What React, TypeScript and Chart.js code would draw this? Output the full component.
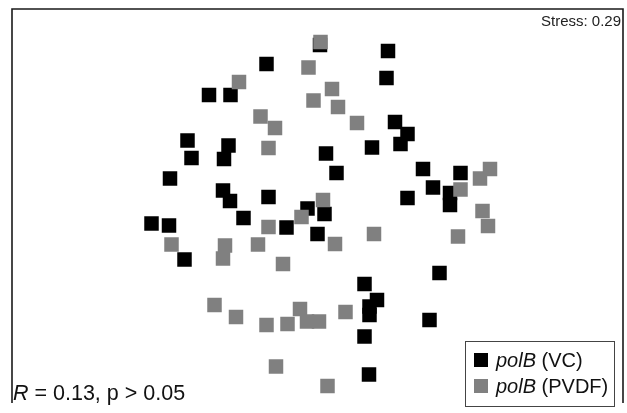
import React, { useEffect, useRef } from 'react';
import { Chart, registerables } from 'chart.js';

Chart.register(...registerables);

// Series names (the "polB" part is set in italics)
const seriesNames = ['polB (VC)', 'polB (PVDF)'];
const italicPart = 'polB';
const seriesColors = ['#000000', '#808080'];

// polB (VC) NMDS coordinates
const vcNMDS1 = [
  -0.515, 0.70, 0.685, -1.09, -0.875, -1.305, -1.265, -1.48, -0.895, -0.94,
  -0.95, -0.88, -0.495, -0.745, -1.665, -1.49, -1.335, 0.08, 0.185, 0.54,
  0.77, 0.895, 0.825, 1.05, 1.425, 1.15, 1.32, 0.895, 1.32, -0.105,
  0.065, -0.315, -0.005, 1.215, 0.465, 0.59, 0.515, 0.515, 0.465, 1.115,
  0.51, 0.02,
];
const vcNMDS2 = [
  1.42, 1.55, 1.28, 1.11, 1.11, 0.655, 0.48, 0.275, 0.605, 0.47,
  0.155, 0.05, 0.09, -0.12, -0.175, -0.195, -0.535, 0.525, 0.33, 0.585,
  0.84, 0.72, 0.62, 0.37, 0.33, 0.185, 0.13, 0.08, 0.01, -0.025,
  -0.08, -0.215, -0.28, -0.67, -0.78, -0.94, -1.005, -1.09, -1.305, -1.14,
  -1.685, 1.61,
];

// polB (PVDF) NMDS coordinates
const pvdfNMDS1 = [
  0.025, -0.095, -0.79, 0.14, -0.045, 0.20, -0.575, -0.43, 0.39, -0.495,
  0.05, -0.165, -0.495, 0.17, 0.56, -0.60, -0.93, -0.95, -0.35, -1.465,
  1.72, 1.62, 1.425, 1.645, 1.70, 1.40, -1.035, -0.82, -0.515, -0.305,
  -0.18, -0.11, 0.01, 0.275, -0.42, 0.095,
];
const pvdfNMDS2 = [
  1.64, 1.385, 1.24, 1.17, 1.055, 0.99, 0.895, 0.78, 0.83, 0.58,
  0.06, -0.11, -0.21, -0.38, -0.28, -0.385, -0.395, -0.525, -0.58, -0.385,
  0.37, 0.275, 0.165, -0.05, -0.20, -0.305, -0.99, -1.11, -1.19, -1.18,
  -1.03, -1.155, -1.155, -1.06, -1.605, -1.80,
];

const xRange = [-3.06, 3.05];
const yRange = [-1.97, 1.97];

const stressLabel = 'Stress: 0.29';
const statSymbol = 'R';
const statRest = ' = 0.13, p > 0.05';

const FONT = '"Liberation Sans", Arial, Helvetica, sans-serif';

const toPoints = (xs: number[], ys: number[]) => xs.map((x, i) => ({ x, y: ys[i] }));

const decorPlugin = {
  id: 'nmdsDecor',
  afterDraw(chart: any) {
    const { ctx, chartArea } = chart;
    const { left, top, right, bottom } = chartArea;
    ctx.save();
    // frame (open at the bottom)
    ctx.strokeStyle = '#1a1a1a';
    ctx.lineWidth = 1.6;
    ctx.beginPath();
    ctx.moveTo(left, bottom);
    ctx.lineTo(left, top);
    ctx.lineTo(right, top);
    ctx.lineTo(right, bottom);
    ctx.stroke();

    // stress label
    ctx.fillStyle = '#222';
    ctx.font = `15px ${FONT}`;
    ctx.textAlign = 'right';
    ctx.textBaseline = 'middle';
    ctx.fillText(stressLabel, right - 2, top + 13);

    // statistics label
    ctx.textAlign = 'left';
    ctx.textBaseline = 'alphabetic';
    ctx.fillStyle = '#111';
    ctx.font = `italic 21.5px ${FONT}`;
    const sx = left + 1;
    const sy = bottom - 3;
    ctx.fillText(statSymbol, sx, sy);
    const w = ctx.measureText(statSymbol).width;
    ctx.font = `21.5px ${FONT}`;
    ctx.fillText(statRest, sx + w, sy);

    // legend
    const bw = 149;
    const bh = 65;
    const bx = right - 9 - bw;
    const by = bottom - 62;
    ctx.fillStyle = '#ffffff';
    ctx.fillRect(bx, by, bw, bh);
    ctx.strokeStyle = '#444';
    ctx.lineWidth = 1;
    ctx.strokeRect(bx + 0.5, by + 0.5, bw, bh);
    const datasets = chart.data.datasets;
    datasets.forEach((ds: any, i: number) => {
      const cy = by + 19 + i * 26;
      ctx.fillStyle = ds.backgroundColor;
      ctx.fillRect(bx + 9, cy - 7, 14, 14);
      const label: string = ds.label;
      ctx.fillStyle = '#111';
      ctx.textBaseline = 'middle';
      let tx = bx + 31;
      if (label.startsWith(italicPart)) {
        ctx.font = `italic 20px ${FONT}`;
        ctx.fillText(italicPart, tx, cy + 1);
        tx += ctx.measureText(italicPart).width;
        ctx.font = `20px ${FONT}`;
        ctx.fillText(label.slice(italicPart.length), tx, cy + 1);
      } else {
        ctx.font = `20px ${FONT}`;
        ctx.fillText(label, tx, cy + 1);
      }
    });
    ctx.restore();
  },
};

export default function App() {
  const canvasRef = useRef<HTMLCanvasElement | null>(null);

  useEffect(() => {
    document.body.style.margin = '0';
    const canvas = canvasRef.current;
    if (!canvas) return;
    const chart = new Chart(canvas, {
      type: 'scatter',
      data: {
        datasets: [
          {
            label: seriesNames[0],
            data: toPoints(vcNMDS1, vcNMDS2),
            backgroundColor: seriesColors[0],
            borderColor: seriesColors[0],
            borderWidth: 0,
            pointStyle: 'rect',
            pointRadius: 10.25,
            pointHoverRadius: 10.25,
            order: 2,
          },
          {
            label: seriesNames[1],
            data: toPoints(pvdfNMDS1, pvdfNMDS2),
            backgroundColor: seriesColors[1],
            borderColor: seriesColors[1],
            borderWidth: 0,
            pointStyle: 'rect',
            pointRadius: 10.25,
            pointHoverRadius: 10.25,
            order: 1,
          },
        ],
      },
      options: {
        responsive: false,
        animation: false,
        events: [],
        layout: { autoPadding: false, padding: { left: 12, top: 9, right: 4, bottom: 10 } },
        plugins: {
          legend: { display: false },
          tooltip: { enabled: false },
          title: { display: false },
        },
        scales: {
          x: { type: 'linear', display: false, min: xRange[0], max: xRange[1] },
          y: { type: 'linear', display: false, min: yRange[0], max: yRange[1] },
        },
      },
      plugins: [decorPlugin],
    });
    return () => chart.destroy();
  }, []);

  return (
    <div style={{ position: 'fixed', left: 0, top: 0, width: 627, height: 413, background: '#fff' }}>
      <canvas ref={canvasRef} width={627} height={413} style={{ width: 627, height: 413 }} />
    </div>
  );
}
